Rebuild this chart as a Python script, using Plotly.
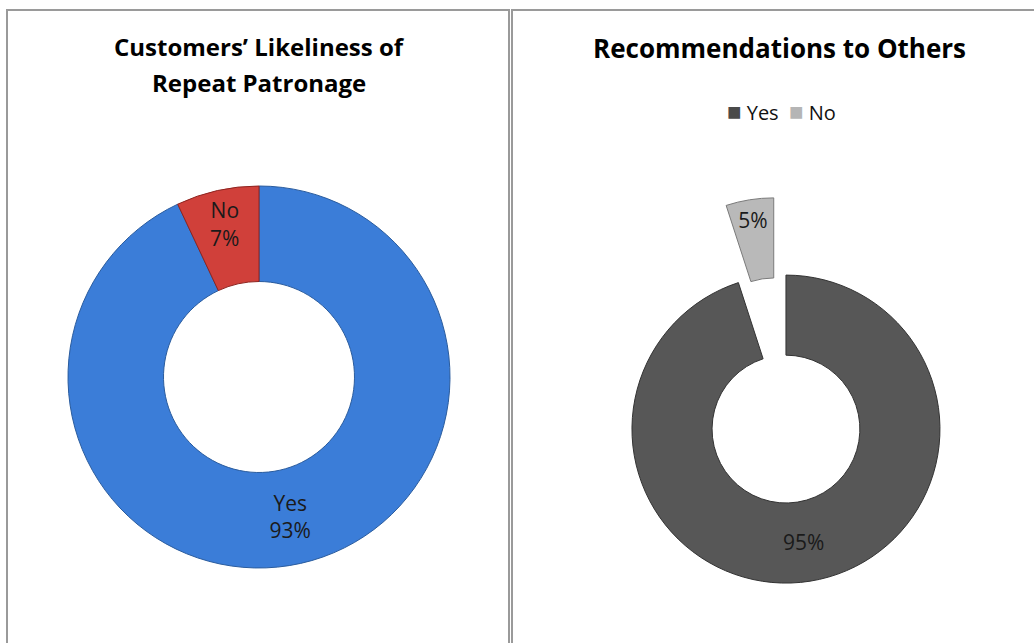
import math
import plotly.graph_objects as go

# ---- data ----
repeat_labels = ["Yes", "No"]
repeat_values = [93, 7]
repeat_text = ["Yes<br>93%", "No<br>7%"]

recommend_labels = ["Yes", "No"]
recommend_values = [95, 5]
recommend_text = ["95%", "5%"]

left_title = ["Customers’ Likeliness of", "Repeat Patronage"]
right_title = "Recommendations to Others"

# ---- page geometry ----
W, H = 1034, 643


def px_x(x):
    return x / W


def px_y(y):
    return 1 - y / H


def domain_for(cx, cy, half):
    return dict(x=[px_x(cx - half), px_x(cx + half)],
                y=[px_y(cy + half), px_y(cy - half)])


FONT = "Open Sans"
TXT = "#1a1a1a"
LABEL_SIZE = 21

fig = go.Figure()

# Left donut
fig.add_trace(go.Pie(
    labels=repeat_labels, values=repeat_values, text=repeat_text,
    textinfo="text", sort=False, direction="clockwise", rotation=0,
    hole=0.5, domain=domain_for(259, 377, 191),
    marker=dict(colors=["#3b7dd8", "#d0403a"],
                line=dict(color=["#2a5c9e", "#8e2420"], width=1)),
    insidetextorientation="horizontal", textposition="inside",
    insidetextfont=dict(family=FONT, size=LABEL_SIZE, color=TXT),
    showlegend=False, hoverinfo="label+percent",
))

# Right donut: Yes slice (slightly pulled)
R_RIGHT = 154
yes_pull = 0.04
cx_r, cy_r = 785, 423
fig.add_trace(go.Pie(
    labels=recommend_labels, values=recommend_values,
    text=[recommend_text[0], ""],
    textinfo="text", sort=False, direction="clockwise", rotation=0,
    hole=0.48, pull=[yes_pull, 0],
    domain=domain_for(cx_r, cy_r, R_RIGHT * (1 + yes_pull)),
    marker=dict(colors=["#575757", "rgba(0,0,0,0)"],
                line=dict(color=["#333333", "rgba(0,0,0,0)"], width=1)),
    insidetextorientation="horizontal", textposition="inside",
    insidetextfont=dict(family=FONT, size=LABEL_SIZE, color=TXT),
    showlegend=False, hoverinfo="label+percent",
))

# Right donut: No slice (exploded far out)
no_shift = 72
mid_angle = math.radians(360 * recommend_values[1] / sum(recommend_values) / 2)
cx_no = cx_r - no_shift * math.sin(mid_angle)
cy_no = cy_r - no_shift * math.cos(mid_angle)
fig.add_trace(go.Pie(
    labels=recommend_labels, values=recommend_values,
    text=["", recommend_text[1]],
    textinfo="text", sort=False, direction="clockwise", rotation=0,
    hole=0.48,
    domain=domain_for(cx_no, cy_no, R_RIGHT),
    marker=dict(colors=["rgba(0,0,0,0)", "#b9b9b9"],
                line=dict(color=["rgba(0,0,0,0)", "#7a7a7a"], width=1)),
    insidetextorientation="horizontal", textposition="inside",
    insidetextfont=dict(family=FONT, size=LABEL_SIZE, color=TXT),
    showlegend=False, hoverinfo="label+percent",
))

annotations = [
    dict(text=f"<b>{left_title[0]}</b>", x=px_x(259), y=px_y(47),
         font=dict(family=FONT, size=24, color="#000")),
    dict(text=f"<b>{left_title[1]}</b>", x=px_x(259), y=px_y(83),
         font=dict(family=FONT, size=24, color="#000")),
    dict(text=f"<b>{right_title}</b>", x=px_x(779), y=px_y(48),
         font=dict(family=FONT, size=26, color="#000")),
    dict(text=('<span style="color:#4a4a4a;font-size:24px">■</span> Yes  '
               '<span style="color:#b5b5b5;font-size:24px">■</span> No'),
         x=px_x(781), y=px_y(110),
         font=dict(family=FONT, size=20, color="#111")),
]
for a in annotations:
    a.update(xref="paper", yref="paper", showarrow=False,
             xanchor="center", yanchor="middle")

shapes = [
    dict(type="rect", xref="paper", yref="paper",
         x0=px_x(7), x1=px_x(509), y0=-0.05, y1=px_y(10),
         line=dict(color="#9a9a9a", width=2)),
    dict(type="rect", xref="paper", yref="paper",
         x0=px_x(512), x1=1.05, y0=-0.05, y1=px_y(10),
         line=dict(color="#9a9a9a", width=2)),
]

fig.update_layout(
    width=W, height=H, margin=dict(l=0, r=0, t=0, b=0),
    paper_bgcolor="white", plot_bgcolor="white",
    annotations=annotations, shapes=shapes,
    font=dict(family=FONT),
)

fig.write_html("out.html")
